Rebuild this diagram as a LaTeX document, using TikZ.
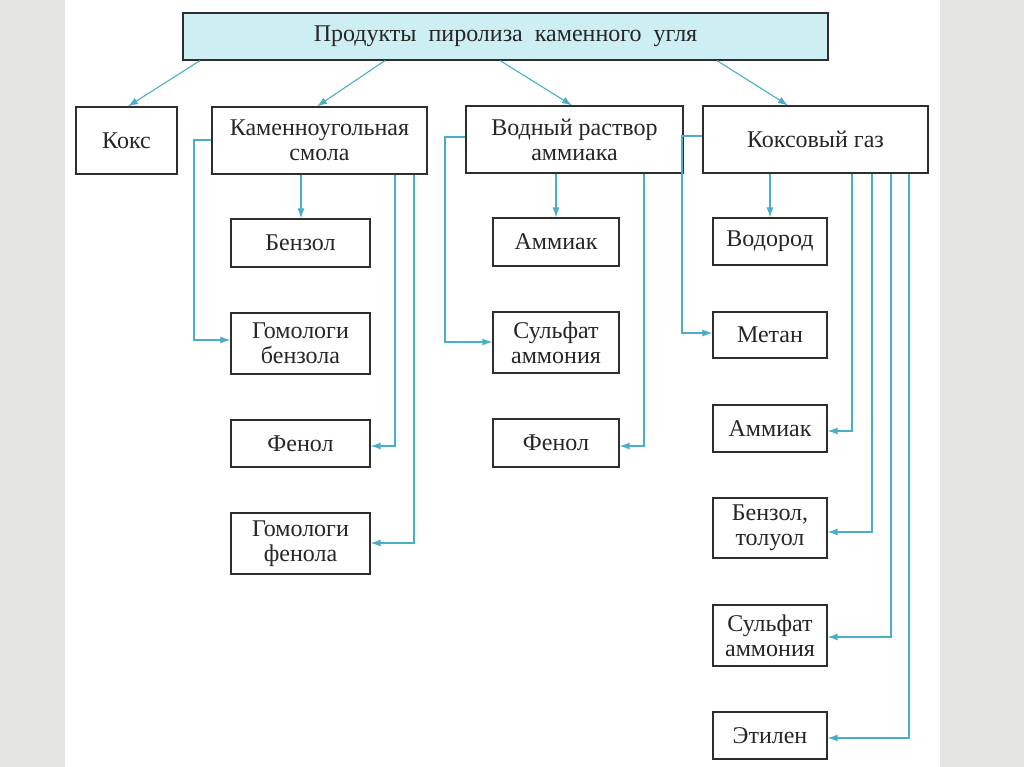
\documentclass[tikz,border=0pt]{standalone}
\usepackage{fontspec}
\setmainfont{Liberation Serif}
\usetikzlibrary{arrows.meta}
\definecolor{lineblue}{HTML}{4AAEC6}
\definecolor{topfill}{HTML}{CDEEF3}
\definecolor{boxline}{HTML}{2E2E2E}
\definecolor{sidegrey}{HTML}{E4E4E2}
\tikzset{
  box/.style={draw=boxline, line width=1.2pt, fill=white, inner sep=0pt, align=center,
    font=\fontsize{24}{25}\selectfont, text=black!85},
  link/.style={draw=lineblue, line width=1.1pt, -{Latex[length=10pt,width=7pt]}},
}
\newcommand{\boxat}[6]{% name, x1, y1, x2, y2, text
  \node[box, minimum width={#4-#2}, minimum height={#5-#3}] (#1) at ({(#2+#4)/2},{(#3+#5)/2}) {#6};}
\begin{document}
\begin{tikzpicture}[x=1pt,y=-1pt]
\useasboundingbox (0,0) rectangle (1024,767);
\fill[white] (0,0) rectangle (1024,767);
\fill[sidegrey] (0,0) rectangle (65,767);
\fill[sidegrey] (940,0) rectangle (1024,767);
% top
\node[box, fill=topfill, minimum width=645, minimum height=47] (top) at (505.5,36.5) {Продукты\ \ пиролиза\ \ каменного\ \ угля};
% row 1
\boxat{koks}{76}{107}{177}{174}{Кокс}
\boxat{smola}{212}{107}{427}{174}{Каменноугольная\\смола}
\boxat{voda}{466}{106}{683}{173}{Водный раствор\\аммиака}
\boxat{gaz}{703}{106}{928}{173}{Коксовый газ}
% column smola
\boxat{benz}{231}{219}{370}{267}{Бензол}
\boxat{gombenz}{231}{313}{370}{374}{Гомологи\\бензола}
\boxat{fenA}{231}{420}{370}{467}{Фенол}
\boxat{gomfen}{231}{513}{370}{574}{Гомологи\\фенола}
% column voda
\boxat{ammA}{493}{218}{619}{266}{Аммиак}
\boxat{sulfA}{493}{312}{619}{373}{Сульфат\\аммония}
\boxat{fenB}{493}{419}{619}{467}{Фенол}
% column gaz
\boxat{vodorod}{713}{218}{827}{265}{Водород}
\boxat{metan}{713}{312}{827}{358}{Метан}
\boxat{ammB}{713}{405}{827}{452}{Аммиак}
\boxat{bentol}{713}{498}{827}{558}{Бензол,\\толуол}
\boxat{sulfB}{713}{605}{827}{666}{Сульфат\\аммония}
\boxat{etilen}{713}{712}{827}{759}{Этилен}
% top arrows
\draw[link] (top.south -| 200,0) -- (koks.north -| 128,0);
\draw[link] (top.south -| 385,0) -- (smola.north -| 317,0);
\draw[link] (top.south -| 500,0) -- (voda.north -| 572,0);
\draw[link] (top.south -| 717,0) -- (gaz.north -| 788,0);
% smola links
\draw[link] (smola.west |- 0,140) -| (194,340) -- (gombenz.west |- 0,340);
\draw[link] (smola.south -| 301,0) -- (benz.north -| 301,0);
\draw[link] (smola.south -| 395,0) |- (fenA.east |- 0,446);
\draw[link] (smola.south -| 414,0) |- (gomfen.east |- 0,543);
% voda links
\draw[link] (voda.west |- 0,137) -| (445,342) -- (sulfA.west |- 0,342);
\draw[link] (voda.south -| 556,0) -- (ammA.north -| 556,0);
\draw[link] (voda.south -| 644,0) |- (fenB.east |- 0,446);
% gaz links
\draw[link] (gaz.west |- 0,136) -| (682,333) -- (metan.west |- 0,333);
\draw[link] (gaz.south -| 770,0) -- (vodorod.north -| 770,0);
\draw[link] (gaz.south -| 852,0) |- (ammB.east |- 0,431);
\draw[link] (gaz.south -| 872,0) |- (bentol.east |- 0,532);
\draw[link] (gaz.south -| 891,0) |- (sulfB.east |- 0,637);
\draw[link] (gaz.south -| 909,0) |- (etilen.east |- 0,738);
\end{tikzpicture}
\end{document}
